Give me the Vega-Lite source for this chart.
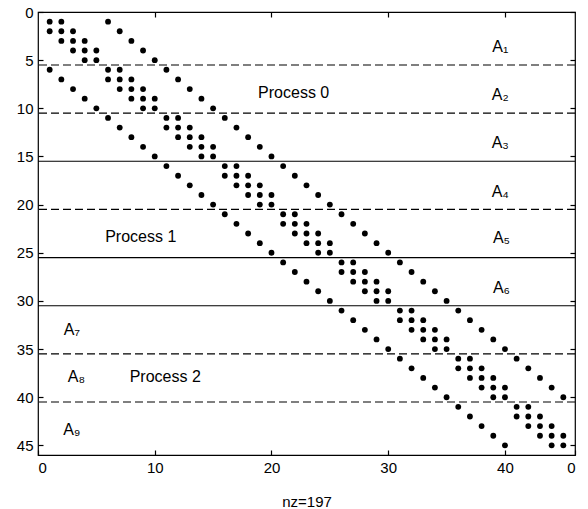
{
  "$schema": "https://vega.github.io/schema/vega-lite/v6.json",
  "width": 537,
  "height": 443,
  "autosize": {"type": "none"},
  "padding": {"left": 38, "top": 12, "right": 13, "bottom": 54},
  "background": "white",
  "config": {
    "view": {"stroke": "black", "strokeWidth": 1.2},
    "font": "Liberation Sans",
    "axis": {"grid": false, "domain": false, "ticks": true, "tickColor": "black", "tickWidth": 1.2, "labelColor": "black", "labelFont": "Liberation Sans", "labelFontSize": 15, "titleFont": "Liberation Sans", "titleFontSize": 15, "titleFontWeight": "normal", "titleColor": "black"}
  },
  "datasets": {
    "nz": [
      {"row":1,"col":1},{"row":1,"col":2},{"row":1,"col":6},
      {"row":2,"col":1},{"row":2,"col":2},{"row":2,"col":3},{"row":2,"col":7},
      {"row":3,"col":2},{"row":3,"col":3},{"row":3,"col":4},{"row":3,"col":8},
      {"row":4,"col":3},{"row":4,"col":4},{"row":4,"col":5},{"row":4,"col":9},
      {"row":5,"col":4},{"row":5,"col":5},{"row":5,"col":10},
      {"row":6,"col":1},{"row":6,"col":6},{"row":6,"col":7},{"row":6,"col":11},
      {"row":7,"col":2},{"row":7,"col":6},{"row":7,"col":7},{"row":7,"col":8},{"row":7,"col":12},
      {"row":8,"col":3},{"row":8,"col":7},{"row":8,"col":8},{"row":8,"col":9},{"row":8,"col":13},
      {"row":9,"col":4},{"row":9,"col":8},{"row":9,"col":9},{"row":9,"col":10},{"row":9,"col":14},
      {"row":10,"col":5},{"row":10,"col":9},{"row":10,"col":10},{"row":10,"col":15},
      {"row":11,"col":6},{"row":11,"col":11},{"row":11,"col":12},{"row":11,"col":16},
      {"row":12,"col":7},{"row":12,"col":11},{"row":12,"col":12},{"row":12,"col":13},{"row":12,"col":17},
      {"row":13,"col":8},{"row":13,"col":12},{"row":13,"col":13},{"row":13,"col":14},{"row":13,"col":18},
      {"row":14,"col":9},{"row":14,"col":13},{"row":14,"col":14},{"row":14,"col":15},{"row":14,"col":19},
      {"row":15,"col":10},{"row":15,"col":14},{"row":15,"col":15},{"row":15,"col":20},
      {"row":16,"col":11},{"row":16,"col":16},{"row":16,"col":17},{"row":16,"col":21},
      {"row":17,"col":12},{"row":17,"col":16},{"row":17,"col":17},{"row":17,"col":18},{"row":17,"col":22},
      {"row":18,"col":13},{"row":18,"col":17},{"row":18,"col":18},{"row":18,"col":19},{"row":18,"col":23},
      {"row":19,"col":14},{"row":19,"col":18},{"row":19,"col":19},{"row":19,"col":20},{"row":19,"col":24},
      {"row":20,"col":15},{"row":20,"col":19},{"row":20,"col":20},{"row":20,"col":25},
      {"row":21,"col":16},{"row":21,"col":21},{"row":21,"col":22},{"row":21,"col":26},
      {"row":22,"col":17},{"row":22,"col":21},{"row":22,"col":22},{"row":22,"col":23},{"row":22,"col":27},
      {"row":23,"col":18},{"row":23,"col":22},{"row":23,"col":23},{"row":23,"col":24},{"row":23,"col":28},
      {"row":24,"col":19},{"row":24,"col":23},{"row":24,"col":24},{"row":24,"col":25},{"row":24,"col":29},
      {"row":25,"col":20},{"row":25,"col":24},{"row":25,"col":25},{"row":25,"col":30},
      {"row":26,"col":21},{"row":26,"col":26},{"row":26,"col":27},{"row":26,"col":31},
      {"row":27,"col":22},{"row":27,"col":26},{"row":27,"col":27},{"row":27,"col":28},{"row":27,"col":32},
      {"row":28,"col":23},{"row":28,"col":27},{"row":28,"col":28},{"row":28,"col":29},{"row":28,"col":33},
      {"row":29,"col":24},{"row":29,"col":28},{"row":29,"col":29},{"row":29,"col":30},{"row":29,"col":34},
      {"row":30,"col":25},{"row":30,"col":29},{"row":30,"col":30},{"row":30,"col":35},
      {"row":31,"col":26},{"row":31,"col":31},{"row":31,"col":32},{"row":31,"col":36},
      {"row":32,"col":27},{"row":32,"col":31},{"row":32,"col":32},{"row":32,"col":33},{"row":32,"col":37},
      {"row":33,"col":28},{"row":33,"col":32},{"row":33,"col":33},{"row":33,"col":34},{"row":33,"col":38},
      {"row":34,"col":29},{"row":34,"col":33},{"row":34,"col":34},{"row":34,"col":35},{"row":34,"col":39},
      {"row":35,"col":30},{"row":35,"col":34},{"row":35,"col":35},{"row":35,"col":40},
      {"row":36,"col":31},{"row":36,"col":36},{"row":36,"col":37},{"row":36,"col":41},
      {"row":37,"col":32},{"row":37,"col":36},{"row":37,"col":37},{"row":37,"col":38},{"row":37,"col":42},
      {"row":38,"col":33},{"row":38,"col":37},{"row":38,"col":38},{"row":38,"col":39},{"row":38,"col":43},
      {"row":39,"col":34},{"row":39,"col":38},{"row":39,"col":39},{"row":39,"col":40},{"row":39,"col":44},
      {"row":40,"col":35},{"row":40,"col":39},{"row":40,"col":40},{"row":40,"col":45},
      {"row":41,"col":36},{"row":41,"col":41},{"row":41,"col":42},
      {"row":42,"col":37},{"row":42,"col":41},{"row":42,"col":42},{"row":42,"col":43},
      {"row":43,"col":38},{"row":43,"col":42},{"row":43,"col":43},{"row":43,"col":44},
      {"row":44,"col":39},{"row":44,"col":43},{"row":44,"col":44},{"row":44,"col":45},
      {"row":45,"col":40},{"row":45,"col":44},{"row":45,"col":45}
    ],
    "lines": [
      {"yv":5.5,"kind":"dashed"},{"yv":10.5,"kind":"dashed"},{"yv":15.5,"kind":"solid"},
      {"yv":20.5,"kind":"dashed"},{"yv":25.5,"kind":"solid"},{"yv":30.5,"kind":"solid"},
      {"yv":35.5,"kind":"dashed"},{"yv":40.5,"kind":"dashed"}
    ],
    "labels": [
      {"lx":39.6,"ly":3.6,"text":"A₁"},
      {"lx":39.6,"ly":8.6,"text":"A₂"},
      {"lx":39.6,"ly":13.6,"text":"A₃"},
      {"lx":39.6,"ly":18.7,"text":"A₄"},
      {"lx":39.7,"ly":23.5,"text":"A₅"},
      {"lx":39.7,"ly":28.7,"text":"A₆"},
      {"lx":2.9,"ly":33.0,"text":"A₇"},
      {"lx":3.3,"ly":37.9,"text":"A₈"},
      {"lx":2.9,"ly":43.4,"text":"A₉"},
      {"lx":21.9,"ly":8.4,"text":"Process 0"},
      {"lx":8.8,"ly":23.4,"text":"Process 1"},
      {"lx":10.9,"ly":37.9,"text":"Process 2"}
    ]
  },
  "layer": [
    {
      "data": {"name": "nz"},
      "mark": {"type": "circle", "color": "black", "opacity": 1, "size": 34},
      "encoding": {
        "x": {"field": "col", "type": "quantitative", "scale": {"domain": [0, 46], "nice": false, "zero": false},
              "axis": {"orient": "bottom", "values": [0,10,20,30,40,46], "labelExpr": "datum.value == 46 ? '0' : datum.label", "tickSize": -5, "labelPadding": 10, "title": "nz=197", "titlePadding": 19}},
        "y": {"field": "row", "type": "quantitative", "scale": {"domain": [0, 46], "reverse": true, "nice": false, "zero": false},
              "axis": {"orient": "left", "values": [0,5,10,15,20,25,30,35,40,45], "tickSize": -5, "labelPadding": 10, "title": null}}
      }
    },
    {
      "data": {"name": "lines"},
      "mark": {"type": "rule", "color": "black", "strokeWidth": 1.1},
      "encoding": {
        "y": {"field": "yv", "type": "quantitative",
              "axis": {"orient": "right", "values": [0,5,10,15,20,25,30,35,40,45], "labels": false, "tickSize": -5, "title": null}},
        "strokeDash": {"field": "kind", "type": "nominal", "scale": {"domain": ["solid","dashed"], "range": [[1,0],[8,4]]}, "legend": null}
      }
    },
    {
      "data": {"name": "labels"},
      "mark": {"type": "text", "color": "black", "fontSize": 16, "font": "Liberation Sans", "align": "center", "baseline": "middle"},
      "encoding": {
        "x": {"field": "lx", "type": "quantitative", "axis": {"orient": "top", "values": [10,20,30,40], "labels": false, "tickSize": -5, "title": null}},
        "y": {"field": "ly", "type": "quantitative", "axis": null},
        "text": {"field": "text", "type": "nominal"}
      }
    }
  ],
  "resolve": {"axis": {"x": "independent", "y": "independent"}}
}
